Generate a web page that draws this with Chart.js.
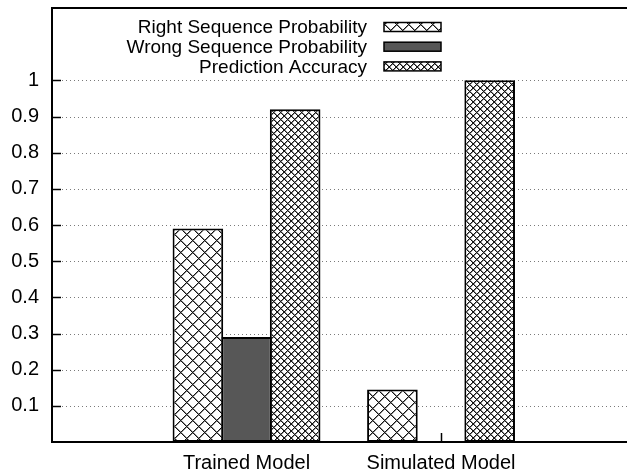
<!DOCTYPE html>
<html>
<head>
<meta charset="utf-8">
<script src="https://cdn.jsdelivr.net/npm/chart.js@4/dist/chart.umd.min.js"></script>
<style>
  html, body { margin: 0; padding: 0; background: #fff; }
  canvas { display: block; }
</style>
</head>
<body>
<canvas id="chart" width="627" height="475"></canvas>
<script>
// Model groups along the x axis
const categories = ['Trained Model', 'Simulated Model'];

// Series names and values (one value per model)
const seriesNames = ['Right Sequence Probability', 'Wrong Sequence Probability', 'Prediction Accuracy'];
const rightSequence = [0.59, 0.145];
const wrongSequence = [0.29, 0];
const predictionAccuracy = [0.92, 1.0];

// Labelled y ticks
const yTickValues = [0.1, 0.2, 0.3, 0.4, 0.5, 0.6, 0.7, 0.8, 0.9, 1.0];
const yTickLabels = ['0.1', '0.2', '0.3', '0.4', '0.5', '0.6', '0.7', '0.8', '0.9', '1'];

const FONT = "'Liberation Sans', Arial, Helvetica, sans-serif";

// Cross-hatch fill: two families of 45-degree lines on white
function crossHatch(period) {
  const c = document.createElement('canvas');
  c.width = c.height = period;
  const g = c.getContext('2d');
  const img = g.createImageData(period, period);
  for (let y = 0; y < period; y++) {
    for (let x = 0; x < period; x++) {
      const d1 = (((x - y) % period) + period) % period;
      const d2 = (x + y) % period;
      let v = 255;
      if (d1 === 0 || d2 === 0) v = 20;
      else if (d1 === 1 || d2 === 1) v = 140;
      const k = (y * period + x) * 4;
      img.data[k] = img.data[k + 1] = img.data[k + 2] = v;
      img.data[k + 3] = 255;
    }
  }
  g.putImageData(img, 0, 0);
  return g.createPattern(c, 'repeat');
}

const ctx = document.getElementById('chart').getContext('2d');
const coarseHatch = crossHatch(12);
const fineHatch = crossHatch(7);
const solidGray = '#575757';

const toPoints = vals => vals.map((v, i) => ({ x: i, y: v }));

// Dotted grid, inward tick marks (drawn beneath the bars)
const gridPlugin = {
  id: 'gridAndTicks',
  beforeDatasetsDraw(chart) {
    const { ctx, chartArea: a, scales: { x, y } } = chart;
    ctx.save();
    ctx.strokeStyle = '#7a7a7a';
    ctx.lineWidth = 1;
    ctx.setLineDash([1, 3]);
    yTickValues.forEach(v => {
      const py = Math.round(y.getPixelForValue(v)) + 0.5;
      ctx.beginPath();
      ctx.moveTo(a.left + 10, py);
      ctx.lineTo(a.right, py);
      ctx.stroke();
    });
    ctx.setLineDash([]);
    ctx.strokeStyle = '#000';
    ctx.lineWidth = 1.5;
    yTickValues.forEach(v => {
      const py = Math.round(y.getPixelForValue(v)) + 0.5;
      ctx.beginPath();
      ctx.moveTo(a.left, py);
      ctx.lineTo(a.left + 9, py);
      ctx.stroke();
    });
    categories.forEach((_, i) => {
      const px = Math.round(x.getPixelForValue(i)) + 0.5;
      ctx.beginPath();
      ctx.moveTo(px, a.bottom);
      ctx.lineTo(px, a.bottom - 9);
      ctx.stroke();
    });
    ctx.restore();
  },
  afterDatasetsDraw(chart) {
    const { ctx, chartArea: a } = chart;
    ctx.save();
    ctx.strokeStyle = '#000';
    ctx.lineWidth = 2;
    ctx.beginPath();
    ctx.moveTo(a.right, a.top);
    ctx.lineTo(a.left, a.top);
    ctx.lineTo(a.left, a.bottom);
    ctx.lineTo(a.right, a.bottom);
    ctx.stroke();
    ctx.restore();
  }
};

// Key in the top area: right-aligned labels with sample boxes on their right
const keyPlugin = {
  id: 'keyBoxes',
  afterDraw(chart) {
    const { ctx } = chart;
    ctx.save();
    ctx.font = '19px ' + FONT;
    ctx.textAlign = 'right';
    ctx.textBaseline = 'middle';
    chart.data.datasets.forEach((ds, i) => {
      const cy = 27 + i * 19.7;
      ctx.fillStyle = '#000';
      ctx.fillText(ds.label, 367, cy + 1);
      ctx.fillStyle = ds.backgroundColor;
      ctx.fillRect(384, cy - 4.5, 57, 9);
      ctx.strokeStyle = '#000';
      ctx.lineWidth = 1.5;
      ctx.strokeRect(384, cy - 4.5, 57, 9);
    });
    ctx.restore();
  }
};

new Chart(ctx, {
  type: 'bar',
  data: {
    datasets: [
      { label: seriesNames[0], data: toPoints(rightSequence), backgroundColor: coarseHatch,
        borderColor: '#000', borderWidth: 2, borderSkipped: false },
      { label: seriesNames[1], data: toPoints(wrongSequence), backgroundColor: solidGray,
        borderColor: '#000', borderWidth: 2, borderSkipped: false },
      { label: seriesNames[2], data: toPoints(predictionAccuracy), backgroundColor: fineHatch,
        borderColor: '#000', borderWidth: 2, borderSkipped: false }
    ]
  },
  options: {
    responsive: false,
    animation: false,
    events: [],
    layout: { padding: { top: 8, left: 0, right: 0, bottom: 0 } },
    datasets: { bar: { categoryPercentage: 0.75, barPercentage: 1.041 } },
    plugins: { legend: { display: false }, tooltip: { enabled: false } },
    scales: {
      x: {
        type: 'linear',
        min: -1,
        max: 1.956,
        offset: false,
        grid: { display: false, drawTicks: false, tickLength: 0 },
        border: { display: false },
        afterBuildTicks: s => { s.ticks = categories.map((_, i) => ({ value: i })); },
        afterFit: s => { s.height = 33; s.paddingLeft = 0; s.paddingRight = 0; },
        ticks: {
          autoSkip: false, maxRotation: 0, padding: 9, color: '#000',
          font: { family: FONT, size: 20 },
          callback: v => categories[v] ?? ''
        }
      },
      y: {
        min: 0,
        max: 1.2,
        grid: { display: false, drawTicks: false, tickLength: 0 },
        border: { display: false },
        afterBuildTicks: s => { s.ticks = yTickValues.map(v => ({ value: v })); },
        afterFit: s => { s.width = 52; s.paddingTop = 0; s.paddingBottom = 0; },
        ticks: {
          padding: 13, color: '#000',
          font: { family: FONT, size: 20 },
          callback: (v, i) => yTickLabels[i]
        }
      }
    }
  },
  plugins: [gridPlugin, keyPlugin]
});
</script>
</body>
</html>
